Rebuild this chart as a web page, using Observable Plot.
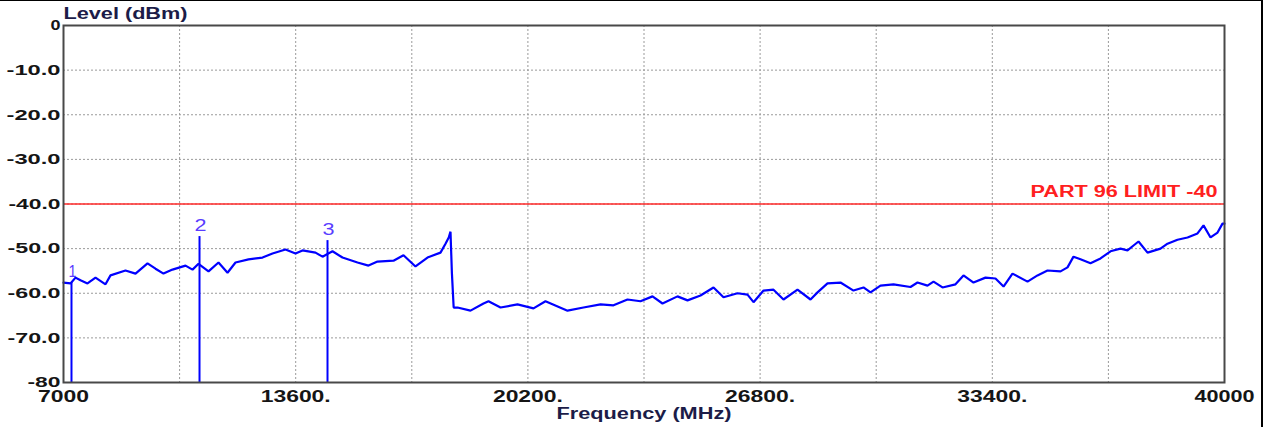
<!DOCTYPE html>
<html>
<head>
<meta charset="utf-8">
<script src="https://cdn.jsdelivr.net/npm/d3@7"></script>
<script src="https://cdn.jsdelivr.net/npm/@observablehq/plot@0.6"></script>
<style>
  html, body { margin: 0; padding: 0; background: #fff; }
  #wrap { position: relative; width: 1270px; height: 427px; overflow: hidden; }
  #border { position: absolute; left: 0; top: 0; width: 1263px; height: 427px;
            border-top: 1px solid #000; border-right: 2px solid #000; box-sizing: border-box; pointer-events: none; }
</style>
</head>
<body>
<div id="wrap"><div id="border"></div></div>
<script>
// ---- data ----
const freqMHz = [7000, 7199, 7341, 7483, 7682, 7910, 8194, 8336, 8762, 9047, 9388, 9615, 9842, 10098, 10468, 10667, 10837, 11122, 11406, 11662, 11889, 12259, 12656, 12941, 13310, 13594, 13793, 14163, 14362, 14646, 14930, 15357, 15669, 15925, 16380, 16664, 17005, 17346, 17716, 17858, 17950, 18000, 18040, 18090, 18199, 18568, 18938, 19080, 19421, 19904, 20359, 20700, 21326, 21780, 22264, 22633, 23031, 23401, 23742, 24026, 24452, 24737, 25106, 25476, 25760, 26158, 26442, 26613, 26897, 27181, 27465, 27863, 28233, 28432, 28716, 29085, 29455, 29739, 29938, 30222, 30592, 31075, 31274, 31558, 31729, 31985, 32354, 32581, 32866, 33207, 33491, 33719, 33974, 34401, 34685, 34969, 35339, 35538, 35708, 35907, 36191, 36476, 36760, 37044, 37243, 37414, 37556, 37812, 38181, 38380, 38664, 38949, 39233, 39404, 39603, 39802, 39943, 40000];
const levelDBm = [-57.6, -57.8, -56.5, -57.1, -57.8, -56.5, -58.0, -56.0, -54.9, -55.6, -53.3, -54.5, -55.6, -54.7, -53.8, -54.7, -53.4, -55.1, -53.1, -55.4, -53.1, -52.4, -52.0, -51.1, -50.2, -51.1, -50.4, -50.9, -51.8, -50.6, -52.0, -53.1, -53.8, -52.9, -52.7, -51.5, -54.0, -52.0, -50.9, -48.9, -47.5, -46.2, -55.5, -63.2, -63.2, -63.9, -62.3, -61.8, -63.2, -62.5, -63.4, -61.8, -63.9, -63.2, -62.5, -62.7, -61.4, -61.8, -60.7, -62.3, -60.7, -61.6, -60.5, -58.7, -60.9, -60.0, -60.3, -62.0, -59.4, -59.2, -61.4, -59.2, -61.4, -59.8, -57.8, -57.6, -59.4, -58.7, -59.8, -58.3, -58.0, -58.6, -57.6, -58.3, -57.4, -58.7, -58.0, -56.0, -57.6, -56.5, -56.7, -58.5, -55.6, -57.4, -56.0, -54.9, -55.1, -54.2, -51.8, -52.4, -53.3, -52.2, -50.6, -50.0, -50.4, -49.3, -48.4, -50.9, -50.0, -48.9, -48.0, -47.5, -46.6, -44.8, -47.5, -46.4, -44.4, -44.4];

const markerIds = ["1", "2", "3"];
const markerFreq = [7227, 10866, 14504];
const markerLevel = [-57.6, -47.3, -48.2];

const limitLevel = -40;
const limitLabel = "PART 96 LIMIT -40";

const xGridTicks = [7000, 10300, 13600, 16900, 20200, 23500, 26800, 30100, 33400, 36700, 40000];
const xLabelTicks = [7000, 13600, 20200, 26800, 33400, 40000];
const xTickLabels = ["7000", "13600.", "20200.", "26800.", "33400.", "40000"];
const yTicks = [0, -10, -20, -30, -40, -50, -60, -70, -80];
const yTickLabels = ["0", "-10.0", "-20.0", "-30.0", "-40.0", "-50.0", "-60.0", "-70.0", "-80"];

const yTitle = "Level (dBm)";
const xTitle = "Frequency (MHz)";

// ---- build tables ----
const trace = freqMHz.map((f, i) => ({f, v: levelDBm[i]}));
const markers = markerIds.map((id, i) => ({id, f: markerFreq[i], v: markerLevel[i]}));

const FONT = "'Liberation Sans', Arial, sans-serif";

const chart = Plot.plot({
  width: 1270,
  height: 427,
  marginLeft: 63,
  marginRight: 46,
  marginTop: 25,
  marginBottom: 45,
  style: {fontFamily: FONT, background: "transparent"},
  x: {domain: [7000, 40000], label: null},
  y: {domain: [-80, 0], label: null},
  marks: [
    Plot.gridX(xGridTicks, {stroke: "#9a9a9a", strokeOpacity: 1, strokeDasharray: "2,2", strokeWidth: 1}),
    Plot.gridY(yTicks, {stroke: "#9a9a9a", strokeOpacity: 1, strokeDasharray: "2,2", strokeWidth: 1}),
    Plot.ruleY([limitLevel], {stroke: "#ff2a2a", strokeWidth: 1.5}),
    Plot.text([limitLabel], {x: 40000, y: limitLevel, text: d => d, textAnchor: "end", dx: -7, dy: -12,
      fill: "#ff2020", fontSize: 16, fontWeight: "bold"}),
    Plot.line(trace, {x: "f", y: "v", stroke: "#0000ff", strokeWidth: 2.2, strokeLinejoin: "miter"}),
    Plot.ruleX(markers, {x: "f", y1: "v", y2: -80, stroke: "#0000ff", strokeWidth: 2}),
    Plot.text(markers, {x: "f", y: "v", text: "id", dy: -11, dx: 1, fill: "#5a3cff", fontSize: 16}),
    Plot.frame({stroke: "#484848", strokeWidth: 2}),
    Plot.axisX(xLabelTicks, {tickSize: 0, tickPadding: 8, tickFormat: (d) => xTickLabels[xLabelTicks.indexOf(d)],
      fontSize: 16, fontWeight: "bold", fill: "#151515", label: null}),
    Plot.axisY(yTicks, {tickSize: 0, tickPadding: 3, tickFormat: d => yTickLabels[yTicks.indexOf(d)],
      fontSize: 15, fontWeight: "bold", fill: "#151515", label: null}),
    Plot.text([yTitle], {frameAnchor: "top-left", lineAnchor: "middle", text: d => d, textAnchor: "start", dy: -11.5,
      fontSize: 16, fontWeight: "bold", fill: "#1c1c48"}),
    Plot.text([xTitle], {frameAnchor: "bottom", lineAnchor: "middle", text: d => d, dy: 31,
      fontSize: 16, fontWeight: "bold", fill: "#1c1c48"})
  ]
});

document.getElementById("wrap").insertBefore(chart, document.getElementById("border"));

// the reference renders its lettering horizontally widened: fit each text to its measured width
const targetWidth = new Map([
  [limitLabel, 187], [yTitle, 124], [xTitle, 175],
  ["7000", 51], ["13600.", 70], ["20200.", 70], ["26800.", 70], ["33400.", 70], ["40000", 60],
  ["-10.0", 54], ["-20.0", 54], ["-30.0", 54], ["-40.0", 52], ["-50.0", 53], ["-60.0", 53], ["-70.0", 53], ["-80", 33], ["0", 10],
  ["1", 8], ["2", 12], ["3", 12]
]);
chart.querySelectorAll("text").forEach(t => {
  const s = t.textContent;
  const len = t.getComputedTextLength();
  let w = targetWidth.get(s);
  if (!w) w = len * 1.5;
  if (len > 0) {
    t.setAttribute("textLength", w.toFixed(1));
    t.setAttribute("lengthAdjust", "spacingAndGlyphs");
  }
});
</script>
</body>
</html>
